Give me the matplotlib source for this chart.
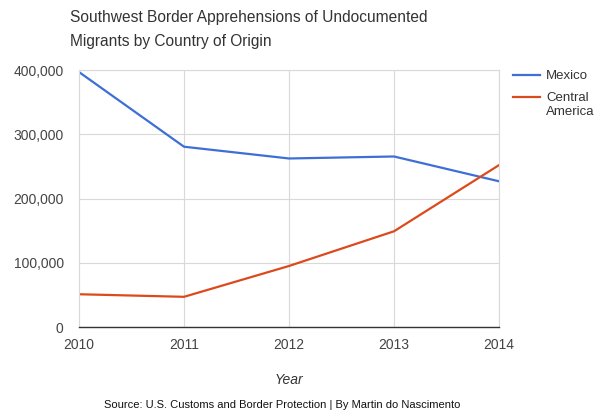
import matplotlib.pyplot as plt
from matplotlib.lines import Line2D
from matplotlib.ticker import FuncFormatter

plt.rcParams['font.family'] = ['Liberation Sans', 'DejaVu Sans']

# Apprehensions per fiscal year
years = [2010, 2011, 2012, 2013, 2014]
mexico = [396800, 280600, 262300, 265400, 226800]
central_america = [51000, 47000, 95000, 149000, 252000]
y_ticks = [0, 100000, 200000, 300000, 400000]

blue = '#3d6fd6'
red = '#dc4a1c'

fig = plt.figure(figsize=(6, 4.13), dpi=100)
ax = fig.add_axes([0.1317, 0.2082, 0.70, 0.6223])

ax.plot(years, mexico, color=blue, lw=1.6)
ax.plot(years, central_america, color=red, lw=1.6)

ax.set_xlim(2010, 2014)
ax.set_ylim(0, 400000)
ax.set_xticks(years)
ax.set_yticks(y_ticks)
ax.yaxis.set_major_formatter(FuncFormatter(lambda v, p: f'{int(v):,}'))

ax.grid(True, color='#d9d9d9', lw=0.8)
ax.set_axisbelow(True)
for side in ['top', 'right', 'left']:
    ax.spines[side].set_color('#d9d9d9')
    ax.spines[side].set_linewidth(0.8)
ax.spines['bottom'].set_color('#333333')
ax.spines['bottom'].set_linewidth(1.0)
ax.tick_params(length=0, labelsize=10, colors='#444444')
ax.tick_params(axis='y', pad=11)
ax.tick_params(axis='x', pad=8)

ax.set_xlabel('Year', fontsize=10, style='italic', color='#333333', labelpad=15)

fig.text(0.117, 0.975, 'Southwest Border Apprehensions of Undocumented\nMigrants by Country of Origin',
         fontsize=11.2, color='#333333', va='top', ha='left', linespacing=1.75)

# legend drawn by hand so the line sits beside the first text line
for y_px, color, label in [(75, blue, 'Mexico'), (97, red, 'Central\nAmerica')]:
    yf = 1 - y_px / 413
    fig.add_artist(Line2D([513 / 600, 540 / 600], [yf, yf], color=color, lw=1.6))
    fig.text(546 / 600, yf + 0.013, label, fontsize=9.5, color='#333333',
             va='top', ha='left', linespacing=1.25)

fig.text(0.47, 0.012, 'Source: U.S. Customs and Border Protection | By Martin do Nascimento',
         fontsize=8, ha='center', color='#111111')

fig.savefig('out.png', dpi=100)
